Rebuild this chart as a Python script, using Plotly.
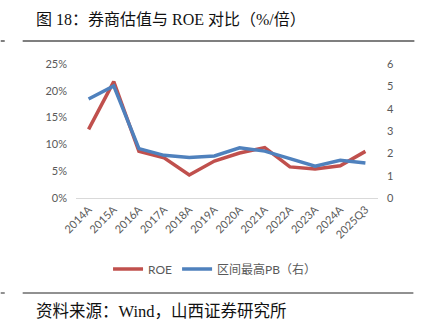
import plotly.graph_objects as go

categories = ["2014A", "2015A", "2016A", "2017A", "2018A", "2019A", "2020A",
              "2021A", "2022A", "2023A", "2024A", "2025Q3"]
roe = [0.128, 0.217, 0.087, 0.075, 0.043, 0.069, 0.084, 0.094, 0.058, 0.054, 0.060, 0.087]
pb_max = [4.43, 5.02, 2.21, 1.91, 1.81, 1.88, 2.25, 2.10, 1.76, 1.42, 1.69, 1.57]

W, H = 425, 330
L, R, T, B = 75.5, 378.5, 64, 198

def px(x):
    return (x - L) / (R - L)

def py(y):
    return (B - y) / (B - T)

RED = "#C0504D"
BLUE = "#4F81BD"
TXT = "#595959"

fig = go.Figure()
fig.add_trace(go.Scatter(x=categories, y=roe, name="ROE", mode="lines",
                         line=dict(color=RED, width=3.5), yaxis="y"))
fig.add_trace(go.Scatter(x=categories, y=pb_max, name="区间最高PB（右）", mode="lines",
                         line=dict(color=BLUE, width=3.5), yaxis="y2"))

tickfont = dict(family="Lato, Noto Sans CJK SC, sans-serif", size=11, color=TXT)
serif = "Liberation Serif, Noto Sans CJK SC, serif"

fig.update_layout(
    width=W, height=H,
    margin=dict(l=L, r=W - R, t=T, b=H - B, pad=0),
    paper_bgcolor="white", plot_bgcolor="white",
    showlegend=True,
    legend=dict(orientation="h", x=px(215), xanchor="center", y=py(269), yanchor="middle",
                font=dict(family="Lato, Noto Sans CJK SC, sans-serif", size=12, color=TXT),
                itemwidth=30, tracegroupgap=0, bgcolor="rgba(0,0,0,0)"),
    xaxis=dict(type="category", range=[-0.5, 11.5], tickangle=-45, tickfont=tickfont,
               showgrid=False, showline=True, linecolor="#D9D9D9", linewidth=1,
               ticks="", zeroline=False, fixedrange=True),
    yaxis=dict(range=[0, 0.25], dtick=0.05, tickformat=".0%", tickfont=tickfont,
               showgrid=False, zeroline=False, showline=False, ticks="",
               ticklabelstandoff=8),
    yaxis2=dict(range=[0, 6], dtick=1, overlaying="y", side="right", tickfont=tickfont,
                showgrid=False, zeroline=False, showline=False, ticks="",
                ticklabelstandoff=8),
    annotations=[
        dict(text="图 18：券商估值与 ROE 对比（%/倍）", xref="paper", yref="paper",
             x=px(33), y=py(20), xanchor="left", yanchor="middle", showarrow=False,
             font=dict(family=serif, size=16, color="#111111")),
        dict(text="资料来源：Wind，山西证券研究所", xref="paper", yref="paper",
             x=px(33), y=py(311), xanchor="left", yanchor="middle", showarrow=False,
             font=dict(family=serif, size=16.5, color="#111111")),
    ],
    shapes=[
        dict(type="line", xref="paper", yref="paper", x0=px(22), x1=px(415),
             y0=py(41), y1=py(41), line=dict(color="#7F7F7F", width=2)),
        dict(type="line", xref="paper", yref="paper", x0=px(0), x1=px(4),
             y0=py(41), y1=py(41), line=dict(color="#7F7F7F", width=2)),
        dict(type="line", xref="paper", yref="paper", x0=px(22), x1=px(414),
             y0=py(293), y1=py(293), line=dict(color="#222222", width=1)),
        dict(type="line", xref="paper", yref="paper", x0=px(0), x1=px(4),
             y0=py(293), y1=py(293), line=dict(color="#222222", width=1)),
    ],
)

fig.write_html("out.html")
